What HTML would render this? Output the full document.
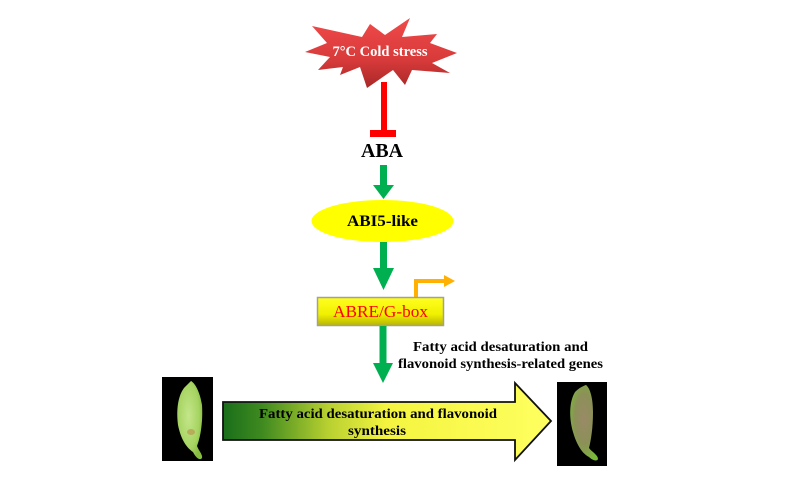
<!DOCTYPE html>
<html>
<head>
<meta charset="utf-8">
<style>
  html,body{margin:0;padding:0;background:#ffffff;}
  svg{display:block;}
  text{font-family:"Liberation Serif","Times New Roman",serif;}
</style>
</head>
<body>
<svg width="799" height="481" viewBox="0 0 799 481" xmlns="http://www.w3.org/2000/svg">
  <defs>
    <linearGradient id="starG" x1="0" y1="0" x2="0" y2="1">
      <stop offset="0" stop-color="#f04a4a"/>
      <stop offset="0.6" stop-color="#d83a3a"/>
      <stop offset="1" stop-color="#a82828"/>
    </linearGradient>
    <linearGradient id="boxG" x1="0" y1="0" x2="0" y2="1">
      <stop offset="0" stop-color="#ffff20"/>
      <stop offset="0.6" stop-color="#f0f000"/>
      <stop offset="1" stop-color="#b8b400"/>
    </linearGradient>
    <linearGradient id="bigG" gradientUnits="userSpaceOnUse" x1="223" y1="0" x2="551" y2="0">
      <stop offset="0" stop-color="#1a6e1a"/>
      <stop offset="0.12" stop-color="#3f8a20"/>
      <stop offset="0.32" stop-color="#b8d030"/>
      <stop offset="0.5" stop-color="#f4f440"/>
      <stop offset="1" stop-color="#ffff60"/>
    </linearGradient>
    <radialGradient id="banL" cx="0.45" cy="0.45" r="0.6">
      <stop offset="0" stop-color="#c4e68a"/>
      <stop offset="0.7" stop-color="#a6d462"/>
      <stop offset="1" stop-color="#86bc40"/>
    </radialGradient>
    <radialGradient id="banR" cx="0.5" cy="0.45" r="0.6">
      <stop offset="0" stop-color="#9a8a68"/>
      <stop offset="0.55" stop-color="#8c9058"/>
      <stop offset="1" stop-color="#7ab83a"/>
    </radialGradient>
  </defs>

  <!-- Star -->
  <polygon fill="url(#starG)" points="312,26 362,37 370,24 385,35 410,18 402,37 437,34 430,43 457,53 432,63 450,73 412,70 405,85 393,70 367,88 360,67 340,75 343,67 318,70 330,57 305,52 327,43"/>
  <text x="380" y="56" text-anchor="middle" font-size="15" font-weight="bold" fill="#ffffff" textLength="95" lengthAdjust="spacingAndGlyphs">7°C Cold stress</text>

  <!-- Inhibition -->
  <rect x="381" y="82" width="6" height="50" fill="#ff0000"/>
  <rect x="370" y="130" width="26" height="7" fill="#ff0000"/>

  <!-- ABA -->
  <text x="382" y="157" text-anchor="middle" font-size="20" font-weight="bold" fill="#000" textLength="42" lengthAdjust="spacingAndGlyphs">ABA</text>

  <!-- Arrow 1 -->
  <rect x="380" y="165" width="7" height="21" fill="#00b050"/>
  <polygon points="373,185 394,185 383.5,199" fill="#00b050"/>

  <!-- Ellipse -->
  <ellipse cx="382.5" cy="221" rx="71" ry="21" fill="#ffff00"/>
  <text x="382.5" y="226" text-anchor="middle" font-size="16" font-weight="bold" fill="#000" textLength="71" lengthAdjust="spacingAndGlyphs">ABI5-like</text>

  <!-- Arrow 2 -->
  <rect x="380" y="242" width="7" height="27" fill="#00b050"/>
  <polygon points="373,268 394,268 383.5,290" fill="#00b050"/>

  <!-- Orange promoter arrow -->
  <polyline points="416,297 416,281 446,281" fill="none" stroke="#ffb000" stroke-width="4"/>
  <polygon points="444,275 455,281 444,287" fill="#ffb000"/>

  <!-- ABRE box -->
  <rect x="317.5" y="297.5" width="126" height="28" fill="url(#boxG)" stroke="#a0a0a0" stroke-width="1.5"/>
  <text x="380.5" y="317" text-anchor="middle" font-size="17" fill="#ff0000" textLength="95" lengthAdjust="spacingAndGlyphs">ABRE/G-box</text>

  <!-- Arrow 3 -->
  <rect x="379.5" y="326" width="7" height="38" fill="#00b050"/>
  <polygon points="373,363 393,363 383,383" fill="#00b050"/>

  <!-- Genes text -->
  <text x="500.5" y="351" text-anchor="middle" font-size="14" font-weight="bold" fill="#000" textLength="175" lengthAdjust="spacingAndGlyphs">Fatty acid desaturation and</text>
  <text x="500.5" y="368" text-anchor="middle" font-size="14" font-weight="bold" fill="#000" textLength="205" lengthAdjust="spacingAndGlyphs">flavonoid synthesis-related genes</text>

  <!-- Big arrow -->
  <polygon points="223,402 515,402 515,383 551,421 515,460 515,440 223,440" fill="url(#bigG)" stroke="#111" stroke-width="1.8" stroke-linejoin="miter"/>
  <text x="378" y="418" text-anchor="middle" font-size="14" font-weight="bold" fill="#000" textLength="238" lengthAdjust="spacingAndGlyphs">Fatty acid desaturation and flavonoid</text>
  <text x="377" y="435" text-anchor="middle" font-size="14" font-weight="bold" fill="#000" textLength="58" lengthAdjust="spacingAndGlyphs">synthesis</text>

  <!-- Left banana -->
  <rect x="162" y="377" width="51" height="84" fill="#000"/>
  <path d="M191,381 C195,383 200,392 202,405 C203,420 201,436 197,446 C199,451 203,455 202,458 C200,461 196,458 193,452 C187,448 181,440 178,425 C176,410 178,396 184,388 C187,385 189,383 191,381 Z" fill="url(#banL)"/>
  <ellipse cx="191" cy="432" rx="4" ry="3" fill="#b89850" opacity="0.7"/>

  <!-- Right banana -->
  <rect x="557" y="382" width="50" height="84" fill="#000"/>
  <path d="M586,385 C590,388 593,398 593,412 C593,428 591,440 589,448 C592,452 598,455 598,459 C597,462 592,460 589,457 C583,454 577,446 573,432 C569,418 569,402 575,392 C579,388 583,386 586,385 Z" fill="url(#banR)"/>
</svg>
</body>
</html>
